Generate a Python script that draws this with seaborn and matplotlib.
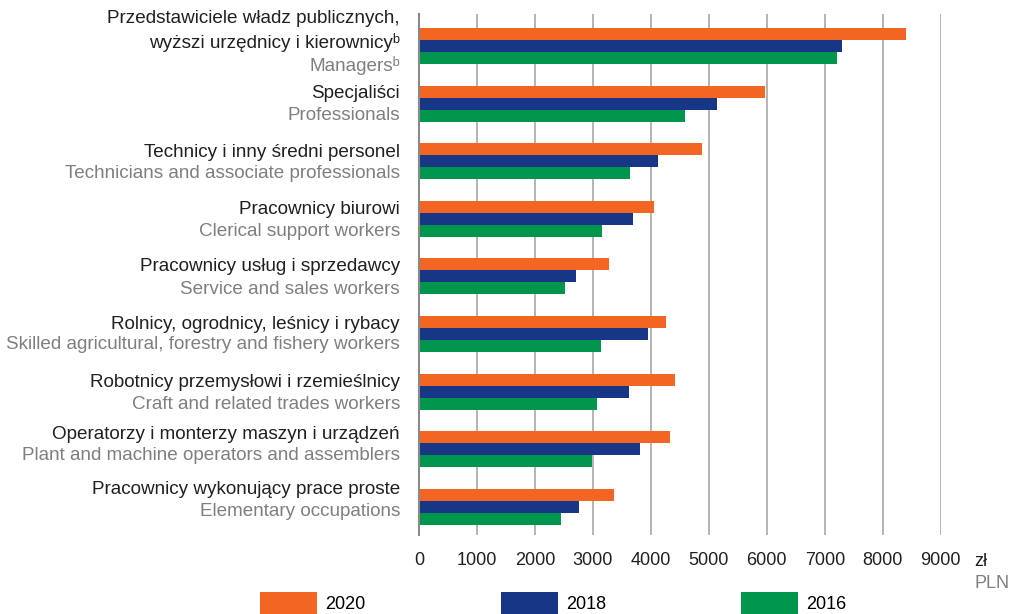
import numpy as np
import pandas as pd
import seaborn as sns
import matplotlib.pyplot as plt

# occupation groups (Polish / English labels)
pl_labels = ["Przedstawiciele władz publicznych,\nwyższi urzędnicy i kierownicyᵇ",
             "Specjaliści",
             "Technicy i inny średni personel",
             "Pracownicy biurowi",
             "Pracownicy usług i sprzedawcy",
             "Rolnicy, ogrodnicy, leśnicy i rybacy",
             "Robotnicy przemysłowi i rzemieślnicy",
             "Operatorzy i monterzy maszyn i urządzeń",
             "Pracownicy wykonujący prace proste"]
en_labels = ["Managersᵇ",
             "Professionals",
             "Technicians and associate professionals",
             "Clerical support workers",
             "Service and sales workers",
             "Skilled agricultural, forestry and fishery workers",
             "Craft and related trades workers",
             "Plant and machine operators and assemblers",
             "Elementary occupations"]

years = ["2020", "2018", "2016"]
wages_2020 = [8400, 5970, 4880, 4055, 3280, 4260, 4415, 4330, 3365]
wages_2018 = [7300, 5140, 4125, 3690, 2710, 3950, 3625, 3810, 2760]
wages_2016 = [7210, 4590, 3640, 3155, 2520, 3140, 3070, 2985, 2450]

colors = ["#F26522", "#173685", "#00954C"]

store = pd.DataFrame({
    "cat": list(range(9)) * 3,
    "year": [y for y in years for _ in range(9)],
    "value": wages_2020 + wages_2018 + wages_2016,
})
store["cat"] = store["cat"].astype(str)

plt.rcParams["font.family"] = ["Liberation Sans", "DejaVu Sans"]
fs = 13.6

fig = plt.figure(figsize=(10.11, 6.14), dpi=100)
ax = fig.add_axes([419 / 1011, 1 - 535 / 614, (940.7 - 419) / 1011, (535 - 14) / 614])

sns.barplot(data=store, y="cat", x="value", hue="year", orient="h",
            palette=colors, width=0.625, saturation=1, ax=ax, legend=True)

ax.set_xlim(0, 9000)
ax.set_ylim(8.49, -0.555)
ax.set_xticks(np.arange(0, 9001, 1000))
ax.tick_params(axis="x", length=0, pad=12, labelsize=13, labelcolor="#231f20")
ax.set_yticks([])
ax.set_xlabel("")
ax.set_ylabel("")
ax.set_axisbelow(True)
ax.xaxis.grid(True, color="#a8a8a8", lw=1.2)
for s in ["top", "right", "bottom"]:
    ax.spines[s].set_visible(False)
ax.spines["left"].set_color("#8a8a8a")
ax.spines["left"].set_linewidth(1.5)

# category labels, Polish black above, English grey below (offsets in pixels)
pl_off = [15, 10, 9, 9, 10, 9, 9, 15, 17]
en_off = [-20, -12, -12, -13, -13, -11, -13, -6, -5]
for i in range(9):
    ax.annotate(pl_labels[i], xy=(0, i), xycoords=("axes fraction", "data"),
                xytext=(-19, pl_off[i]), textcoords="offset pixels",
                ha="right", va="center", color="#231f20", fontsize=fs,
                multialignment="right", linespacing=1.42)
    ax.annotate(en_labels[i], xy=(0, i), xycoords=("axes fraction", "data"),
                xytext=(-19, en_off[i]), textcoords="offset pixels",
                ha="right", va="center", color="#7f7f7f", fontsize=fs)

fig.text(974 / 1011, 1 - 561 / 614, "zł", ha="left", va="center", color="#231f20", fontsize=13)
fig.text(974 / 1011, 1 - 583 / 614, "PLN", ha="left", va="center", color="#7f7f7f", fontsize=13)

handles, labels = ax.get_legend_handles_labels()
ax.legend_.remove()
fig.legend(handles, labels, ncol=3, loc="center left", bbox_to_anchor=(260 / 1011, 1 - 603 / 614),
           frameon=False, borderpad=0, borderaxespad=0, handlelength=3.16, handleheight=1.44,
           handletextpad=0.44, columnspacing=7.5, fontsize=13)

fig.savefig("out.png", dpi=100)
